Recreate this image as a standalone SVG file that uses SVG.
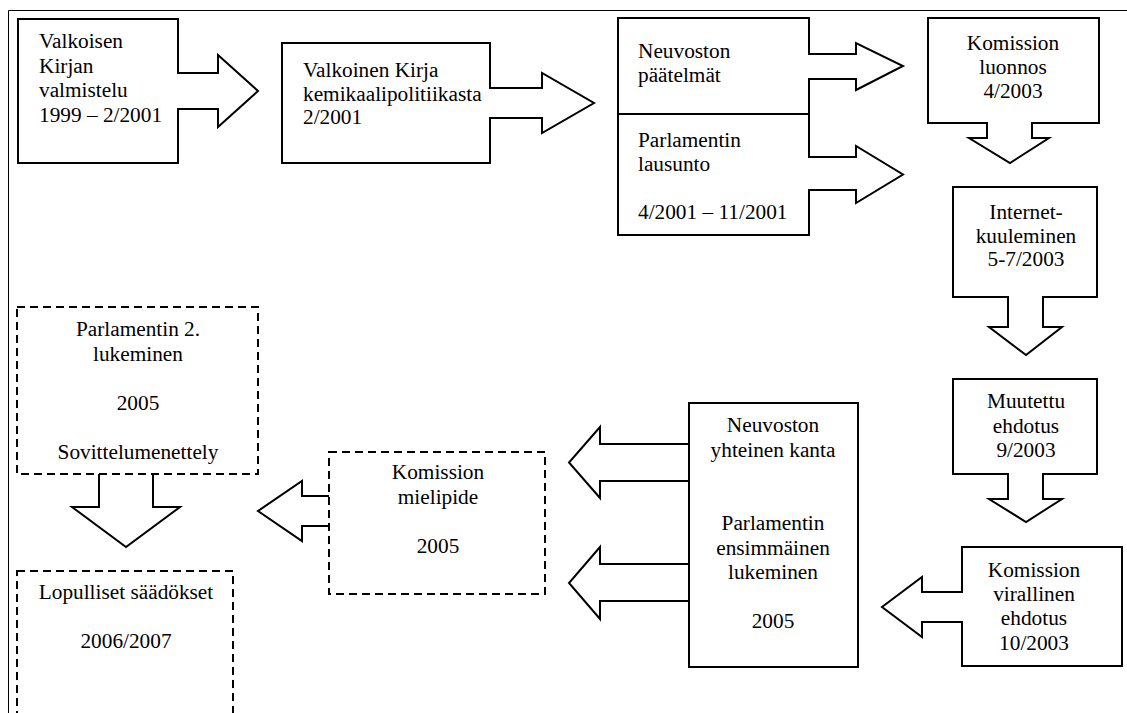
<svg xmlns="http://www.w3.org/2000/svg" width="1127" height="713" viewBox="0 0 1127 713">
<style>
.box{fill:#fff;stroke:#000;stroke-width:2}
.dash{stroke-dasharray:8 5}
.arr{fill:none;stroke:#000;stroke-width:2;stroke-linejoin:miter}
.mask{fill:#fff;stroke:none}
.frame{fill:none;stroke:#000;stroke-width:1}
text{font-family:"Liberation Serif","Times New Roman",serif;font-size:21.3px;fill:#000}
.c{text-anchor:middle}
</style>
<rect x="0" y="0" width="1127" height="713" fill="#fff"/>
<path class="frame" d="M8.5,713 V10.5 H1127"/>

<g id="n1">
<rect class="box" x="18" y="19" width="160" height="144"/>
<text x="39" y="48">Valkoisen</text>
<text x="39" y="72.5">Kirjan</text>
<text x="39" y="97">valmistelu</text>
<text x="39" y="121.5">1999 – 2/2001</text>
</g>
<g id="n2">
<rect class="box" x="282" y="43" width="208" height="120"/>
<text x="303" y="77">Valkoinen Kirja</text>
<text x="303" y="100.5">kemikaalipolitiikasta</text>
<text x="303" y="124">2/2001</text>
</g>
<g id="n3">
<rect class="box" x="618" y="18" width="191" height="96"/>
<text x="638" y="58">Neuvoston</text>
<text x="638" y="82">päätelmät</text>
</g>
<g id="n4">
<rect class="box" x="618" y="114" width="191" height="121"/>
<text x="638" y="147">Parlamentin</text>
<text x="638" y="171">lausunto</text>
<text x="638" y="219">4/2001 – 11/2001</text>
</g>
<g id="n5">
<rect class="box" x="928" y="18" width="171" height="105"/>
<text class="c" x="1013" y="50">Komission</text>
<text class="c" x="1013" y="74">luonnos</text>
<text class="c" x="1013" y="98">4/2003</text>
</g>
<g id="n6">
<rect class="box" x="953" y="187" width="144" height="110"/>
<text class="c" x="1026" y="219">Internet-</text>
<text class="c" x="1026" y="242.5">kuuleminen</text>
<text class="c" x="1026" y="266">5-7/2003</text>
</g>
<g id="n7">
<rect class="box" x="953" y="379" width="144" height="95"/>
<text class="c" x="1026" y="408">Muutettu</text>
<text class="c" x="1026" y="432.5">ehdotus</text>
<text class="c" x="1026" y="457">9/2003</text>
</g>
<g id="n8">
<rect class="box" x="962" y="547" width="160" height="119"/>
<text class="c" x="1034" y="576.5">Komission</text>
<text class="c" x="1034" y="601">virallinen</text>
<text class="c" x="1034" y="625">ehdotus</text>
<text class="c" x="1034" y="649.5">10/2003</text>
</g>
<g id="n9">
<rect class="box" x="689" y="403" width="169" height="264"/>
<text class="c" x="773" y="432">Neuvoston</text>
<text class="c" x="773" y="456.5">yhteinen kanta</text>
<text class="c" x="773" y="530">Parlamentin</text>
<text class="c" x="773" y="554.5">ensimmäinen</text>
<text class="c" x="773" y="579">lukeminen</text>
<text class="c" x="773" y="628">2005</text>
</g>
<g id="n10">
<rect class="box dash" x="329" y="452" width="216" height="142"/>
<text class="c" x="438" y="479">Komission</text>
<text class="c" x="438" y="503.5">mielipide</text>
<text class="c" x="438" y="553">2005</text>
</g>
<g id="n11">
<rect class="box dash" x="17" y="307" width="241" height="167"/>
<text class="c" x="138" y="336">Parlamentin 2.</text>
<text class="c" x="138" y="360.5">lukeminen</text>
<text class="c" x="138" y="409.5">2005</text>
<text class="c" x="138" y="458.5">Sovittelumenettely</text>
</g>
<g id="n12">
<rect class="box dash" x="17" y="571" width="216" height="170"/>
<text class="c" x="126" y="599">Lopulliset säädökset</text>
<text class="c" x="126" y="648">2006/2007</text>
</g>

<g id="connectors">
<path class="mask" d="M176,74 H219 V74 H176 Z M176,74 H218 V108 H176 Z"/>
<path class="arr" d="M178,73 H218 V55 L258,91 L218,127 V109 H178"/>
<path class="mask" d="M488,89 H542 V117 H488 Z"/>
<path class="arr" d="M490,88 H542 V73 L594,103 L542,133 V118 H490"/>
<path class="mask" d="M807,55 H856 V78 H807 Z"/>
<path class="arr" d="M809,54 H856 V43 L903,66 L856,90 V79 H809"/>
<path class="mask" d="M807,158 H856 V189 H807 Z"/>
<path class="arr" d="M809,157 H856 V146 L903,174.5 L856,203 V190 H809"/>
<path class="mask" d="M988,121 H1031 V138 H988 Z"/>
<path class="arr" d="M987,123 V138 H969 L1010,163 L1049,138 H1032 V123"/>
<path class="mask" d="M1009,295 H1042 V327 H1009 Z"/>
<path class="arr" d="M1008,297 V327 H989 L1026,355 L1062,327 H1043 V297"/>
<path class="mask" d="M1009,472 H1042 V499 H1009 Z"/>
<path class="arr" d="M1008,474 V499 H989 L1026,522 L1062,499 H1043 V474"/>
<path class="mask" d="M922,593 H964 V621 H922 Z"/>
<path class="arr" d="M962,592 H922 V577 L882,607 L922,637 V622 H962"/>
<path class="arr" d="M689,444 H600 V427 L569,462.5 L600,498 V481 H689"/>
<path class="arr" d="M689,564 H600 V547 L569,583 L600,619 V601 H689"/>
<path class="arr" d="M329,496 H302 V481 L258,511 L302,541 V526 H329"/>
<path class="arr" d="M99,474 V507 H72 L126,547 L180,507 H153 V474"/>
</g>
</svg>
